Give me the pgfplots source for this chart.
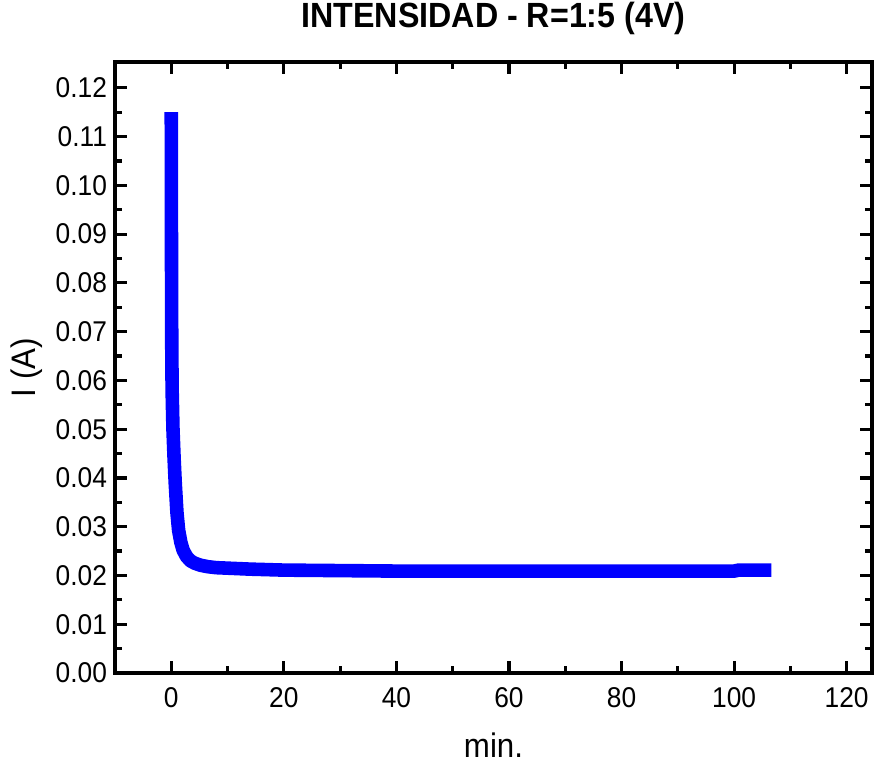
\documentclass[border=0pt]{standalone}
\usepackage{fontspec}
\setmainfont{Liberation Sans}[FakeStretch=0.92]
\usepackage{pgfplots}
\pgfplotsset{compat=1.18}

\begin{document}
\begin{tikzpicture}
\begin{axis}[
  scale only axis,
  width=378.5pt, height=305.5pt,
  xmin=-10, xmax=124.5,
  ymin=0, ymax=0.1253,
  xtick={0,20,...,120},
  ytick={0,0.01,...,0.121},
  minor x tick num=1,
  minor y tick num=1,
  tick align=inside,
  major tick length=6pt,
  minor tick length=3.5pt,
  every major tick/.append style={line width=1.6pt, black},
  every minor tick/.append style={line width=1.6pt, black},
  axis line style={line width=2pt},
  /pgf/number format/assume math mode=true,
  yticklabel style={/pgf/number format/fixed, /pgf/number format/fixed zerofill,
    /pgf/number format/precision=2, font=\fontsize{14.3}{17}\selectfont, xshift=-0.5pt},
  xticklabel style={font=\fontsize{14.3}{17}\selectfont, yshift=-3.5pt},
  scaled y ticks=false,
  xlabel={min.},
  ylabel={I (A)},
  xlabel style={font=\fontsize{17}{20}\selectfont, at={(axis description cs:0.5,-0.118)}, anchor=center},
  ylabel style={font=\fontsize{17}{20}\selectfont, at={(axis description cs:-0.116,0.5)}, anchor=center},
  title={INTENSIDAD - R=1:5 (4V)},
  title style={font=\bfseries\fontsize{17.5}{21}\selectfont, at={(axis description cs:0.5,1.051)}, anchor=center},
]
\addplot[blue, line width=6.8pt, line join=round, line cap=butt] coordinates {
  (0,0.115) (0.03,0.090) (0.08,0.068) (0.15,0.058) (0.3,0.050)
  (0.5,0.044) (0.7,0.039) (1.0,0.033) (1.3,0.0293) (1.7,0.0268)
  (2.1,0.0252) (2.7,0.0239) (3.4,0.0230) (4.2,0.0225) (5.2,0.0221)
  (6.5,0.0218) (8,0.0216) (10,0.0215) (14,0.0213) (20,0.0211)
  (30,0.0210) (40,0.0209) (50,0.0209) (60,0.0209) (70,0.0209)
  (80,0.0209) (90,0.0209) (100,0.0209) (100.8,0.0211) (106.6,0.0211)
};
\coordinate (bl) at (rel axis cs:0,0);
\coordinate (tr) at (rel axis cs:1,1);
\end{axis}
\pgfresetboundingbox
\path[use as bounding box] ([xshift=-57.5pt,yshift=-46pt]bl) rectangle ([xshift=2.5pt,yshift=31pt]tr);
\end{tikzpicture}
\end{document}
